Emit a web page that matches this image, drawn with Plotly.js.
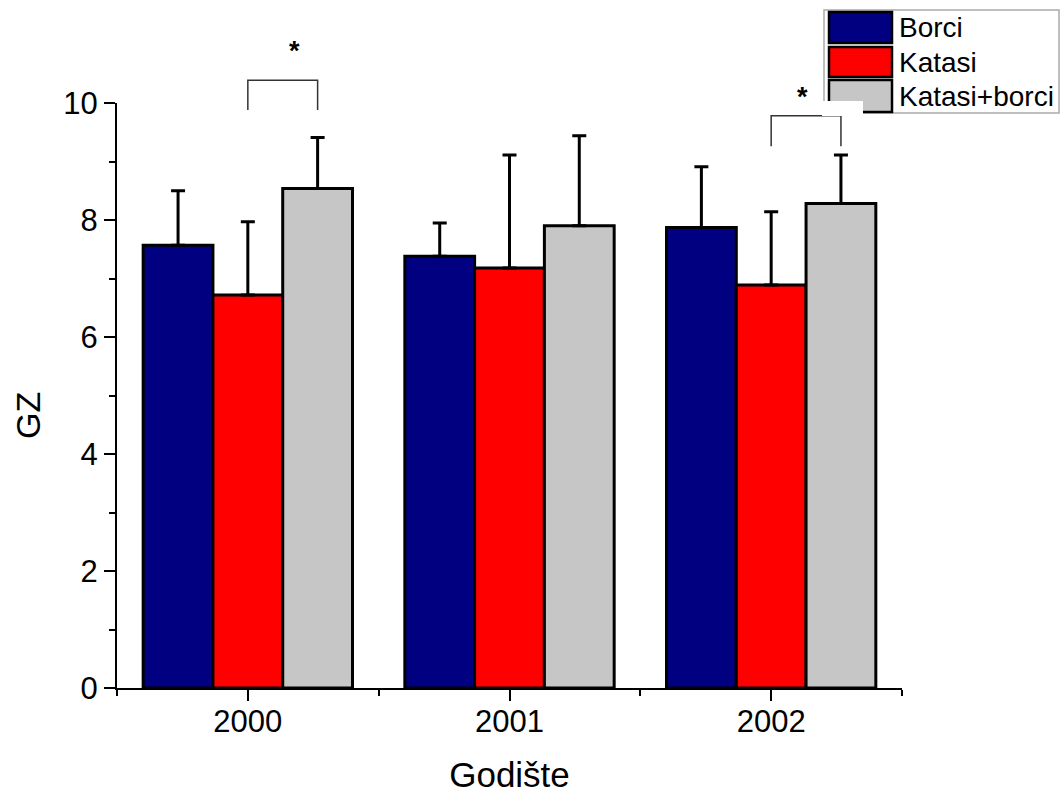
<!DOCTYPE html>
<html>
<head>
<meta charset="utf-8">
<script src="https://cdn.plot.ly/plotly-3.0.1.min.js"></script>
<style>
  html, body { margin: 0; padding: 0; background: #fff; }
  #chart { width: 1064px; height: 796px; }
</style>
</head>
<body>
<div id="chart"></div>
<script>
// Birth years (x categories)
const years = [2000, 2001, 2002];

// Group names
const seriesNames = ['Borci', 'Katasi', 'Katasi+borci'];

// Means and upper error (SD) per group
const borciMean  = [7.57, 7.38, 7.87];
const borciErr   = [0.93, 0.57, 1.04];
const katasiMean = [6.72, 7.18, 6.89];
const katasiErr  = [1.25, 1.93, 1.25];
const kbMean     = [8.54, 7.90, 8.28];
const kbErr      = [0.87, 1.54, 0.83];

// Significance brackets (Katasi vs Katasi+borci)
const sigYears = [2000, 2002];
const sigLow   = [9.88, 9.26];
const sigHigh  = [10.39, 9.78];
const sigStarY = [11.0, 10.22];

const colors = ['#000080', '#ff0000', '#c6c6c6'];
const FONT = 'Liberation Sans, Arial, sans-serif';

const W = 1064, H = 796;
const M = { l: 117, r: 162, t: 103, b: 108 };
const xRange = [years[0] - 0.5, years[years.length - 1] + 0.5];
const yRange = [0, 10];
const bargap = 0.2;
const barW = (1 - bargap) / seriesNames.length;

const means = [borciMean, katasiMean, kbMean];
const errs = [borciErr, katasiErr, kbErr];

const traces = seriesNames.map((name, i) => ({
  type: 'bar',
  name: name,
  x: years,
  y: means[i],
  marker: { color: colors[i], line: { color: '#000', width: 3 } },
  error_y: {
    type: 'data', symmetric: false,
    array: errs[i], arrayminus: errs[i].map(() => 0),
    color: '#000', thickness: 3, width: 7
  },
  hoverinfo: 'skip'
}));

// coordinate helpers (data / pixel -> paper)
const xp = v => (v - xRange[0]) / (xRange[1] - xRange[0]);
const yp = v => (v - yRange[0]) / (yRange[1] - yRange[0]);
const pxX = px => (px - M.l) / (W - M.l - M.r);
const pxY = py => (H - M.b - py) / (H - M.t - M.b);

const shapes = [];
const annotations = [];

// brackets from the Katasi bar centre to the Katasi+borci bar centre
sigYears.forEach((yr, k) => {
  const xa = xp(yr), xb = xp(yr + barW);
  shapes.push({
    type: 'path', xref: 'paper', yref: 'paper',
    path: `M ${xa} ${yp(sigLow[k])} L ${xa} ${yp(sigHigh[k])} L ${xb} ${yp(sigHigh[k])} L ${xb} ${yp(sigLow[k])}`,
    line: { color: '#333', width: 1.5 }
  });
  annotations.push({
    xref: 'paper', yref: 'paper', x: xp(yr + barW * 0.56), y: yp(sigStarY[k]),
    yshift: 10,
    text: '<b>*</b>', showarrow: false,
    font: { family: FONT, size: 27, color: '#000' }
  });
});

// legend box
const leg = { x0: 824, x1: 1059, y0: 10, y1: 113 };
shapes.push({
  type: 'rect', xref: 'paper', yref: 'paper',
  x0: pxX(leg.x0), x1: pxX(leg.x1), y0: pxY(leg.y1), y1: pxY(leg.y0),
  fillcolor: '#fff', line: { color: '#aaa', width: 1.5 }
});
const rows = [[12, 43], [47, 77], [80, 112]];
seriesNames.forEach((name, i) => {
  shapes.push({
    type: 'rect', xref: 'paper', yref: 'paper',
    x0: pxX(829), x1: pxX(892), y0: pxY(rows[i][1]), y1: pxY(rows[i][0]),
    fillcolor: colors[i], line: { color: '#000', width: 2.5 }
  });
  annotations.push({
    xref: 'paper', yref: 'paper', x: pxX(897), y: pxY((rows[i][0] + rows[i][1]) / 2),
    xanchor: 'left', yanchor: 'middle', text: name, showarrow: false,
    font: { family: FONT, size: 28, color: '#000' }
  });
});
// blank patch over the lower-left corner of the legend
shapes.push({
  type: 'rect', xref: 'paper', yref: 'paper',
  x0: pxX(822), x1: pxX(863), y0: pxY(116), y1: pxY(101),
  fillcolor: '#fff', line: { width: 0 }
});

// y-axis title
annotations.push({
  xref: 'paper', yref: 'paper', x: pxX(28), y: pxY(416),
  xanchor: 'center', yanchor: 'middle', textangle: -90,
  text: 'GZ', showarrow: false,
  font: { family: FONT, size: 34, color: '#000' }
});

const axisCommon = {
  showline: true, linecolor: '#000', linewidth: 2,
  ticks: 'outside', tickcolor: '#000', tickwidth: 2, ticklen: 11,
  showgrid: false, zeroline: false,
  tickfont: { family: FONT, size: 31, color: '#000' }
};

const layout = {
  width: W, height: H,
  margin: M,
  paper_bgcolor: '#fff', plot_bgcolor: '#fff',
  showlegend: false,
  barmode: 'group', bargap: bargap, bargroupgap: 0,
  xaxis: Object.assign({}, axisCommon, {
    range: xRange, tickmode: 'array', tickvals: years, ticktext: years.map(String),
    ticklabelstandoff: -6,
    minor: { tick0: xRange[0], dtick: 1, ticks: 'outside', ticklen: 6, tickwidth: 2, tickcolor: '#000' },
    title: { text: 'Godište', font: { family: FONT, size: 35, color: '#000' }, standoff: 24 }
  }),
  yaxis: Object.assign({}, axisCommon, {
    range: yRange, dtick: 2, tick0: 0,
    minor: { dtick: 1, ticks: 'outside', ticklen: 6, tickwidth: 2, tickcolor: '#000' }
  }),
  shapes: shapes,
  annotations: annotations
};

Plotly.newPlot('chart', traces, layout, { displayModeBar: false, staticPlot: true });
</script>
</body>
</html>
